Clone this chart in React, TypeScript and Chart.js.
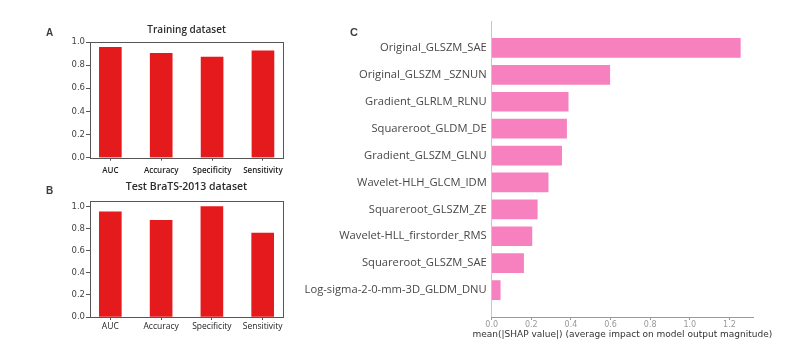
import React, { useEffect, useRef } from "react";
import { Chart, registerables } from "chart.js";

Chart.register(...registerables);

// ---------- data ----------
const metricLabels = ["AUC", "Accuracy", "Specificity", "Sensitivity"];
const trainingValues = [0.953, 0.901, 0.87, 0.923];
const testValues = [0.951, 0.875, 1.0, 0.759];
const metricTicks = [0, 0.2, 0.4, 0.6, 0.8, 1.0];

const featureNames = [
  "Original_GLSZM_SAE",
  "Original_GLSZM _SZNUN",
  "Gradient_GLRLM_RLNU",
  "Squareroot_GLDM_DE",
  "Gradient_GLSZM_GLNU",
  "Wavelet-HLH_GLCM_IDM",
  "Squareroot_GLSZM_ZE",
  "Wavelet-HLL_firstorder_RMS",
  "Squareroot_GLSZM_SAE",
  "Log-sigma-2-0-mm-3D_GLDM_DNU",
];
const shapValues = [1.255, 0.596, 0.386, 0.378, 0.353, 0.285, 0.23, 0.203, 0.161, 0.043];
const shapTicks = [0, 0.2, 0.4, 0.6, 0.8, 1.0, 1.2];
const shapAxisTitle = "mean(|SHAP value|) (average impact on model output magnitude)";

const framePlugin = {
  id: "frame",
  afterDraw(chart: any) {
    const { ctx, chartArea } = chart;
    const { left, top, right, bottom } = chartArea;
    ctx.save();
    ctx.strokeStyle = "#555";
    ctx.lineWidth = 1;
    ctx.strokeRect(Math.round(left) + 0.5, Math.round(top) + 0.5, Math.round(right - left), Math.round(bottom - top));
    ctx.restore();
  },
};

// draws the x-axis title without Chart.js's maxWidth squeeze (the title is wider than the plot)
const xTitlePlugin = {
  id: "xTitleWide",
  afterDraw(chart: any) {
    const sx = chart.scales.x;
    const { ctx } = chart;
    ctx.save();
    ctx.fillStyle = "#333";
    ctx.font = "9px 'DejaVu Sans'";
    ctx.textAlign = "center";
    ctx.textBaseline = "middle";
    ctx.fillText(shapAxisTitle, (sx.left + sx.right) / 2, sx.bottom - 6.2);
    ctx.restore();
  },
};

function metricConfig(
  title: string,
  values: number[],
  yMax: number,
  geo: { titleTop: number; titleBottom: number; titleSize: number; xPad: number; xHeight: number; xFont: any; padRight: number }
): any {
  return {
    type: "bar",
    data: {
      datasets: [
        {
          data: values.map((v, i) => ({ x: i, y: v })),
          backgroundColor: "#e41a1c",
          borderWidth: 0,
          barThickness: 22,
        },
      ],
    },
    options: {
      animation: false,
      responsive: false,
      layout: { padding: { left: 0, right: geo.padRight, top: 0, bottom: 0 } },
      plugins: {
        legend: { display: false },
        tooltip: { enabled: false },
        title: {
          display: true,
          text: title,
          fullSize: false,
          color: "#2b2b2b",
          font: { family: "'Open Sans'", size: geo.titleSize, weight: "600", lineHeight: 1.2 },
          padding: { top: geo.titleTop, bottom: geo.titleBottom },
        },
      },
      scales: {
        x: {
          type: "linear",
          min: -0.4,
          max: 3.4,
          offset: false,
          grid: { display: true, offset: false, drawOnChartArea: false, drawTicks: true, tickLength: 3, color: "#555" },
          border: { display: false },
          ticks: {
            padding: geo.xPad,
            autoSkip: false,
            maxRotation: 0,
            color: "#222",
            font: geo.xFont,
            callback: (v: any) => metricLabels[v] ?? "",
          },
          afterBuildTicks: (s: any) => {
            s.ticks = metricLabels.map((_, i) => ({ value: i }));
          },
          afterFit: (s: any) => {
            s.height = geo.xHeight;
          },
        },
        y: {
          min: 0,
          max: yMax,
          grid: { display: true, drawOnChartArea: false, drawTicks: true, tickLength: 4, color: "#555" },
          border: { display: false },
          ticks: {
            padding: 1,
            color: "#444",
            font: { family: "'DejaVu Sans'", size: 8.5 },
            callback: (v: any) => Number(v).toFixed(1),
          },
          afterBuildTicks: (s: any) => {
            s.ticks = metricTicks.map((v) => ({ value: v }));
          },
          afterFit: (s: any) => {
            s.width = 90;
          },
        },
      },
    },
    plugins: [framePlugin],
  };
}

function shapConfig(): any {
  return {
    type: "bar",
    data: {
      datasets: [
        {
          data: shapValues.map((v, i) => ({ x: v, y: i })),
          backgroundColor: "#f781bf",
          borderWidth: 0,
          barThickness: 19,
        },
      ],
    },
    options: {
      animation: false,
      responsive: false,
      indexAxis: "y",
      layout: { padding: { left: 0, right: 58, top: 21, bottom: 17.8 } },
      plugins: { legend: { display: false }, tooltip: { enabled: false } },
      scales: {
        y: {
          type: "linear",
          min: -1,
          max: featureNames.length,
          reverse: true,
          offset: false,
          grid: { display: false, drawTicks: false, offset: false },
          border: { display: true, color: "#c8c8c8", width: 1 },
          ticks: {
            padding: 5,
            autoSkip: false,
            color: "#474747",
            font: { family: "'Open Sans'", size: 11.2 },
            callback: (v: any) => featureNames[v] ?? "",
          },
          afterBuildTicks: (s: any) => {
            s.ticks = featureNames.map((_, i) => ({ value: i }));
          },
          afterFit: (s: any) => {
            s.width = 201.7;
          },
        },
        x: {
          type: "linear",
          min: 0,
          max: 1.319,
          grid: { display: true, drawOnChartArea: false, drawTicks: true, tickLength: 3, color: "#999" },
          border: { display: true, color: "#999", width: 1 },
          ticks: {
            padding: 0,
            color: "#999",
            font: { family: "'DejaVu Sans'", size: 8 },
            callback: (v: any) => Number(v).toFixed(1),
          },
          afterBuildTicks: (s: any) => {
            s.ticks = shapTicks.map((v) => ({ value: v }));
          },
          afterFit: (s: any) => {
            s.height = 24.2;
          },
        },
      },
    },
    plugins: [xTitlePlugin],
  };
}

const letterStyle = (left: number, top: number, size: number): React.CSSProperties => ({
  position: "absolute",
  left,
  top,
  fontFamily: "'Liberation Sans', Arial, sans-serif",
  fontWeight: 700,
  fontSize: size,
  lineHeight: `${size + 2}px`,
  color: "#3c3c3c",
});

export default function App() {
  const refA = useRef<HTMLCanvasElement>(null);
  const refB = useRef<HTMLCanvasElement>(null);
  const refC = useRef<HTMLCanvasElement>(null);

  useEffect(() => {
    const charts: Chart[] = [];
    if (refA.current) {
      charts.push(
        new Chart(
          refA.current,
          metricConfig("Training dataset", trainingValues, 1.0, {
            titleTop: 24,
            titleBottom: 6,
            titleSize: 10,
            xPad: 5.3,
            xHeight: 22.3,
            xFont: { family: "'Open Sans'", size: 8, weight: "600" },
            padRight: 16.7,
          })
        )
      );
    }
    if (refB.current) {
      charts.push(
        new Chart(
          refB.current,
          metricConfig("Test BraTS-2013 dataset", testValues, 1.05, {
            titleTop: 5,
            titleBottom: 7.4,
            titleSize: 10.5,
            xPad: 1.2,
            xHeight: 42,
            xFont: { family: "'Open Sans'", size: 8.5 },
            padRight: 17,
          })
        )
      );
    }
    if (refC.current) {
      charts.push(new Chart(refC.current, shapConfig()));
    }
    return () => charts.forEach((c) => c.destroy());
  }, []);

  return (
    <div style={{ position: "absolute", left: 0, top: 0, width: 811, height: 359, background: "#fff", overflow: "hidden" }}>
      <canvas ref={refA} width={300} height={180} style={{ position: "absolute", left: 0, top: 0 }} />
      <canvas ref={refB} width={300} height={183} style={{ position: "absolute", left: 0, top: 176 }} />
      <canvas ref={refC} width={521} height={359} style={{ position: "absolute", left: 290, top: 0 }} />
      <div style={letterStyle(46, 27, 10)}>A</div>
      <div style={letterStyle(46, 185, 10)}>B</div>
      <div style={letterStyle(350, 26, 11)}>C</div>
    </div>
  );
}
